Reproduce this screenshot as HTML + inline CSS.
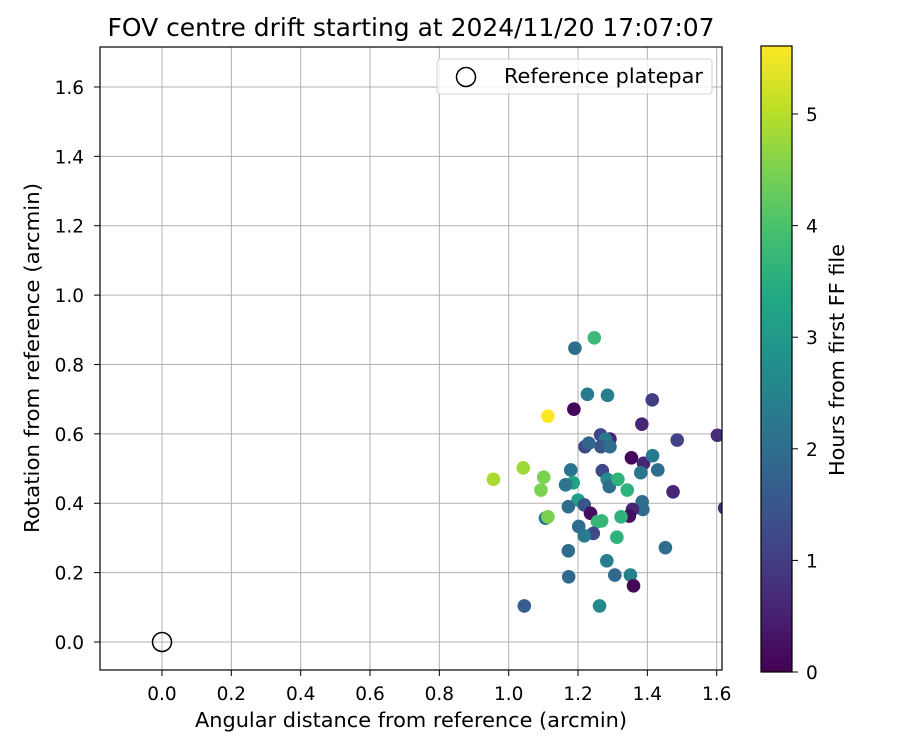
<!DOCTYPE html>
<html><head><meta charset="utf-8"><style>
body{margin:0;background:#fff}
svg text{font-family:"DejaVu Sans","Liberation Sans",sans-serif;fill:#000}
</style></head><body>
<svg id="chart" width="900" height="750" xmlns="http://www.w3.org/2000/svg">
<defs>
<linearGradient id="vir" x1="0" y1="1" x2="0" y2="0">
<stop offset="0" stop-color="#440154"/><stop offset="0.1" stop-color="#482475"/><stop offset="0.2" stop-color="#414487"/><stop offset="0.3" stop-color="#355f8d"/><stop offset="0.4" stop-color="#2a788e"/><stop offset="0.5" stop-color="#21918c"/><stop offset="0.6" stop-color="#22a884"/><stop offset="0.7" stop-color="#44bf70"/><stop offset="0.8" stop-color="#7ad151"/><stop offset="0.9" stop-color="#bddf26"/><stop offset="1" stop-color="#fde725"/>
</linearGradient>
<clipPath id="clip"><rect x="100" y="47" width="622" height="623"/></clipPath>
</defs>
<text x="411" y="36" font-size="24.5" text-anchor="middle" textLength="607" lengthAdjust="spacingAndGlyphs">FOV centre drift starting at 2024/11/20 17:07:07</text>
<g id="grid"></g>
<g id="points" clip-path="url(#clip)"></g>
<rect x="100" y="47" width="622" height="623" fill="none" stroke="#000" stroke-width="1.2"/>
<g id="ticks"></g>
<text x="411" y="727" font-size="20" text-anchor="middle" textLength="432" lengthAdjust="spacingAndGlyphs">Angular distance from reference (arcmin)</text>
<text transform="translate(39,358) rotate(-90)" font-size="20" text-anchor="middle" textLength="350" lengthAdjust="spacingAndGlyphs">Rotation from reference (arcmin)</text>
<g>
<rect x="437" y="59" width="275" height="35" rx="3" fill="#fff" fill-opacity="0.8" stroke="#d0d0d0"/>
<circle cx="466" cy="77" r="9.5" fill="none" stroke="#000" stroke-width="1.5"/>
<text x="504" y="83" font-size="20" textLength="199" lengthAdjust="spacingAndGlyphs">Reference platepar</text>
</g>
<rect x="761" y="46" width="31" height="626" fill="url(#vir)" stroke="#000" stroke-width="1.2"/>
<g id="cbticks"></g>
<text transform="translate(844,360) rotate(-90)" font-size="20" text-anchor="middle" textLength="232" lengthAdjust="spacingAndGlyphs">Hours from first FF file</text>
</svg>
<script>
const xTicks=[0,0.2,0.4,0.6,0.8,1.0,1.2,1.4,1.6];
const yTicks=[0,0.2,0.4,0.6,0.8,1.0,1.2,1.4,1.6];
const cTicks=[0,1,2,3,4,5];
const xs=[1.247,1.191,1.227,1.285,1.414,1.188,1.113,1.384,1.602,1.486,1.265,1.292,1.279,1.220,1.231,1.266,1.292,1.354,1.389,1.415,1.381,1.430,1.474,1.179,1.270,1.042,0.956,1.101,1.093,1.186,1.164,1.284,1.290,1.315,1.342,1.200,1.218,1.172,1.385,1.387,1.357,1.348,1.236,1.324,1.268,1.256,1.106,1.113,1.202,1.244,1.218,1.312,1.172,1.452,1.283,1.173,1.306,1.351,1.360,1.045,1.262,1.623];
const ys=[0.877,0.847,0.714,0.711,0.698,0.671,0.651,0.628,0.596,0.582,0.597,0.585,0.584,0.563,0.573,0.563,0.563,0.531,0.515,0.537,0.488,0.496,0.433,0.496,0.494,0.502,0.469,0.475,0.438,0.459,0.453,0.469,0.448,0.469,0.438,0.409,0.395,0.390,0.404,0.382,0.382,0.363,0.371,0.361,0.349,0.347,0.357,0.361,0.333,0.313,0.306,0.302,0.263,0.272,0.234,0.188,0.193,0.193,0.162,0.104,0.104,0.386];
const hours=[3.8,2.0,2.3,2.4,1.0,0.1,5.6,0.6,0.7,1.1,1.2,0.6,2.3,1.2,1.8,1.5,2.0,0.1,0.6,2.3,2.2,2.0,0.6,2.2,1.2,4.8,4.9,4.5,4.5,3.2,2.2,2.6,2.0,3.6,3.6,3.1,1.5,2.0,2.0,2.0,0.6,0.2,0.2,3.6,3.7,3.7,2.2,4.5,2.0,1.2,2.3,3.6,2.0,2.0,2.4,1.9,1.9,2.5,0.1,1.7,2.6,0.7];
const X=v=>162+v*346.7, Y=v=>642-v*346.9, CY=v=>672-v*111.6, HMAX=5.61;
const vir=["#440154","#482475","#414487","#355f8d","#2a788e","#21918c","#22a884","#44bf70","#7ad151","#bddf26","#fde725"];
function cmap(t){t=Math.max(0,Math.min(1,t))*10;const i=Math.min(9,Math.floor(t)),f=t-i;
const a=vir[i],b=vir[i+1];const c=k=>Math.round(parseInt(a.substr(k,2),16)*(1-f)+parseInt(b.substr(k,2),16)*f);
return `rgb(${c(1)},${c(3)},${c(5)})`;}
const NS="http://www.w3.org/2000/svg";
function mk(tag,attrs,parent,txt){const e=document.createElementNS(NS,tag);for(const k in attrs)e.setAttribute(k,attrs[k]);if(txt!==undefined)e.textContent=txt;parent.appendChild(e);return e;}
const grid=document.getElementById('grid'),tk=document.getElementById('ticks'),pts=document.getElementById('points'),cb=document.getElementById('cbticks');
xTicks.forEach(v=>{
 const l=mk('line',{x1:X(v),x2:X(v),y1:47,y2:670,stroke:'#b0b0b0','stroke-width':1},grid);
 
 
 const t=mk('line',{x1:X(v),x2:X(v),y1:670,y2:676,stroke:'#000'},tk);
 
 
 const s=mk('text',{x:X(v),y:700,'font-size':18.5,'text-anchor':'middle'},tk,v.toFixed(1));
 
 
});
yTicks.forEach(v=>{
 const l=mk('line',{x1:100,x2:722,y1:Y(v),y2:Y(v),stroke:'#b0b0b0','stroke-width':1},grid);
 
 
 const t=mk('line',{x1:94,x2:100,y1:Y(v),y2:Y(v),stroke:'#000'},tk);
 
 
 const s=mk('text',{x:84,y:Y(v)+7,'font-size':18.5,'text-anchor':'end'},tk,v.toFixed(1));
 
 
});
xs.forEach((x,i)=>{
 const c=mk('circle',{cx:X(x),cy:Y(ys[i]),r:6.8,fill:cmap(hours[i]/HMAX)},pts);
 
 
});
const ref=mk('circle',{cx:X(0),cy:Y(0),r:9.5,fill:'none',stroke:'#000','stroke-width':1.5},pts);


cTicks.forEach(v=>{
 const t=mk('line',{x1:792,x2:798,y1:CY(v),y2:CY(v),stroke:'#000'},cb);
 
 
 const s=mk('text',{x:806,y:CY(v)+7,'font-size':18.5},cb,String(v));
 
 
});
</script>
</body></html>
